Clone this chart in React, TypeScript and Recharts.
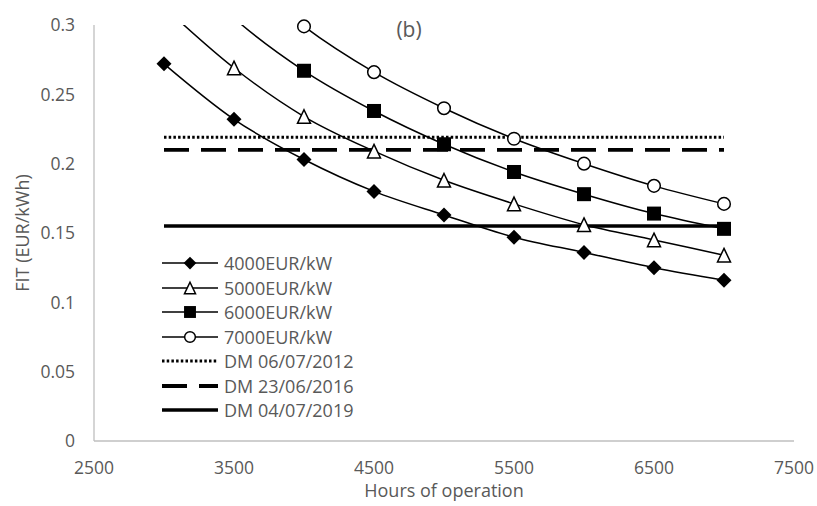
import { ComposedChart, Legend, Line, Scatter, XAxis, YAxis } from "recharts";

// Hours of operation sampled for each investment-cost curve
const hours = [3000, 3500, 4000, 4500, 5000, 5500, 6000, 6500, 7000];

// Required FIT (EUR/kWh) per investment cost; points above 0.3 run off the top of the plot
const fit4000 = [0.272, 0.232, 0.203, 0.18, 0.163, 0.147, 0.136, 0.125, 0.116];
const fit5000 = [0.313, 0.269, 0.234, 0.209, 0.188, 0.171, 0.156, 0.145, 0.134];
const fit6000 = [0.356, 0.305, 0.267, 0.238, 0.214, 0.194, 0.178, 0.164, 0.153];
const fit7000 = [0.399, 0.342, 0.299, 0.266, 0.24, 0.218, 0.2, 0.184, 0.171];

// Decree tariffs, drawn flat across the sampled range
const dmHours = [3000, 7000];
const dm2012 = 0.219;
const dm2016 = 0.21;
const dm2019 = 0.155;

const xTicks = [2500, 3500, 4500, 5500, 6500, 7500];
const yTicks = [0, 0.05, 0.1, 0.15, 0.2, 0.25, 0.3];
const Y_MAX = 0.3;

const FONT = "'Open Sans', Lato, sans-serif";
const TEXT = "#595959";
const AXIS = "#bfbfbf";

type MarkerKind = "diamond" | "triangle" | "square" | "circle";

const costSeries: { name: string; values: number[]; marker: MarkerKind }[] = [
  { name: "4000EUR/kW", values: fit4000, marker: "diamond" },
  { name: "5000EUR/kW", values: fit5000, marker: "triangle" },
  { name: "6000EUR/kW", values: fit6000, marker: "square" },
  { name: "7000EUR/kW", values: fit7000, marker: "circle" },
];

const dmSeries: { name: string; value: number; dash?: string; width: number }[] = [
  { name: "DM 06/07/2012", value: dm2012, dash: "2.5 2.2", width: 3 },
  { name: "DM 23/06/2016", value: dm2016, dash: "25 12", width: 3.8 },
  { name: "DM 04/07/2019", value: dm2019, width: 3.5 },
];

function Marker({ kind, cx, cy, s = 1 }: { kind: MarkerKind; cx: number; cy: number; s?: number }) {
  if (kind === "diamond") {
    const r = 7.5 * s;
    return <polygon points={`${cx},${cy - r} ${cx + r},${cy} ${cx},${cy + r} ${cx - r},${cy}`} fill="#000" />;
  }
  if (kind === "triangle") {
    const w = 6.5 * s;
    const h = 6.8 * s;
    return (
      <polygon
        points={`${cx},${cy - h} ${cx + w},${cy + h} ${cx - w},${cy + h}`}
        fill="#fff"
        stroke="#000"
        strokeWidth={1.5}
      />
    );
  }
  if (kind === "square") {
    const h = 7 * s;
    return <rect x={cx - h} y={cy - h} width={2 * h} height={2 * h} fill="#000" />;
  }
  return <circle cx={cx} cy={cy} r={6.3 * s} fill="#fff" stroke="#000" strokeWidth={1.5} />;
}

function LegendBox() {
  return (
    <div style={{ fontFamily: FONT, fontSize: 18, color: TEXT }}>
      {costSeries.map((s) => (
        <div key={s.name} style={{ display: "flex", alignItems: "center", height: 24.5 }}>
          <svg width={60} height={24} style={{ display: "block" }}>
            <line x1={2} x2={58} y1={12} y2={12} stroke="#000" strokeWidth={1.5} />
            <Marker kind={s.marker} cx={30} cy={12} s={0.85} />
          </svg>
          <span style={{ marginLeft: 4, lineHeight: "24px" }}>{s.name}</span>
        </div>
      ))}
      {dmSeries.map((d) => (
        <div key={d.name} style={{ display: "flex", alignItems: "center", height: 24.5 }}>
          <svg width={60} height={24} style={{ display: "block" }}>
            <line x1={2} x2={58} y1={12} y2={12} stroke="#000" strokeWidth={d.width} strokeDasharray={d.dash} />
          </svg>
          <span style={{ marginLeft: 4, lineHeight: "24px" }}>{d.name}</span>
        </div>
      ))}
    </div>
  );
}

export default function App() {
  const tick = { fill: TEXT, fontSize: 17.5, fontFamily: FONT };

  return (
    <div style={{ position: "absolute", left: 0, top: 0 }}>
      <ComposedChart width={817} height={506} margin={{ top: 25, right: 23, bottom: 0, left: 0 }}>
        <XAxis
          dataKey="h"
          type="number"
          domain={[2500, 7500]}
          ticks={xTicks}
          tick={tick}
          tickLine={false}
          tickSize={0}
          tickMargin={21}
          axisLine={{ stroke: AXIS, strokeWidth: 1.3 }}
          height={65}
        />
        <YAxis
          yAxisId="fit"
          type="number"
          domain={[0, Y_MAX]}
          ticks={yTicks}
          tick={tick}
          tickLine={false}
          tickSize={0}
          tickMargin={19}
          axisLine={{ stroke: AXIS, strokeWidth: 1.3 }}
          width={94}
        />
        {/* same scale, but curves are clipped where they leave the top */}
        <YAxis
          yAxisId="clip"
          orientation="right"
          type="number"
          domain={[0, Y_MAX]}
          allowDataOverflow
          hide
          width={0}
        />

        {dmSeries.map((d) => (
          <Line
            key={d.name}
            yAxisId="fit"
            data={dmHours.map((h) => ({ h, v: d.value }))}
            dataKey="v"
            stroke="#000"
            strokeWidth={d.width}
            strokeDasharray={d.dash}
            dot={false}
            activeDot={false}
            isAnimationActive={false}
          />
        ))}

        {costSeries.map((s) => (
          <Line
            key={s.name}
            yAxisId="clip"
            type="monotone"
            data={hours.map((h, i) => ({ h, v: s.values[i] }))}
            dataKey="v"
            stroke="#000"
            strokeWidth={1.5}
            dot={false}
            activeDot={false}
            isAnimationActive={false}
          />
        ))}

        {costSeries.map((s) => (
          <Scatter
            key={`${s.name}-pts`}
            yAxisId="fit"
            data={hours.map((h, i) => ({ h, v: s.values[i] })).filter((p) => p.v <= Y_MAX)}
            dataKey="v"
            isAnimationActive={false}
            shape={(p: any) => <Marker kind={s.marker} cx={p.cx} cy={p.cy} />}
          />
        ))}

        <text x={409} y={37} textAnchor="middle" fill={TEXT} fontSize={21} fontFamily={FONT}>
          (b)
        </text>
        <text
          x={29}
          y={233}
          transform="rotate(-90, 29, 233)"
          textAnchor="middle"
          fill={TEXT}
          fontSize={18}
          fontFamily={FONT}
        >
          FIT (EUR/kWh)
        </text>
        <text x={444} y={497} textAnchor="middle" fill={TEXT} fontSize={18} fontFamily={FONT}>
          Hours of operation
        </text>

        <Legend
          layout="vertical"
          align="center"
          verticalAlign="middle"
          width={240}
          wrapperStyle={{ left: 160, top: 251 }}
          content={() => <LegendBox />}
        />
      </ComposedChart>
    </div>
  );
}
